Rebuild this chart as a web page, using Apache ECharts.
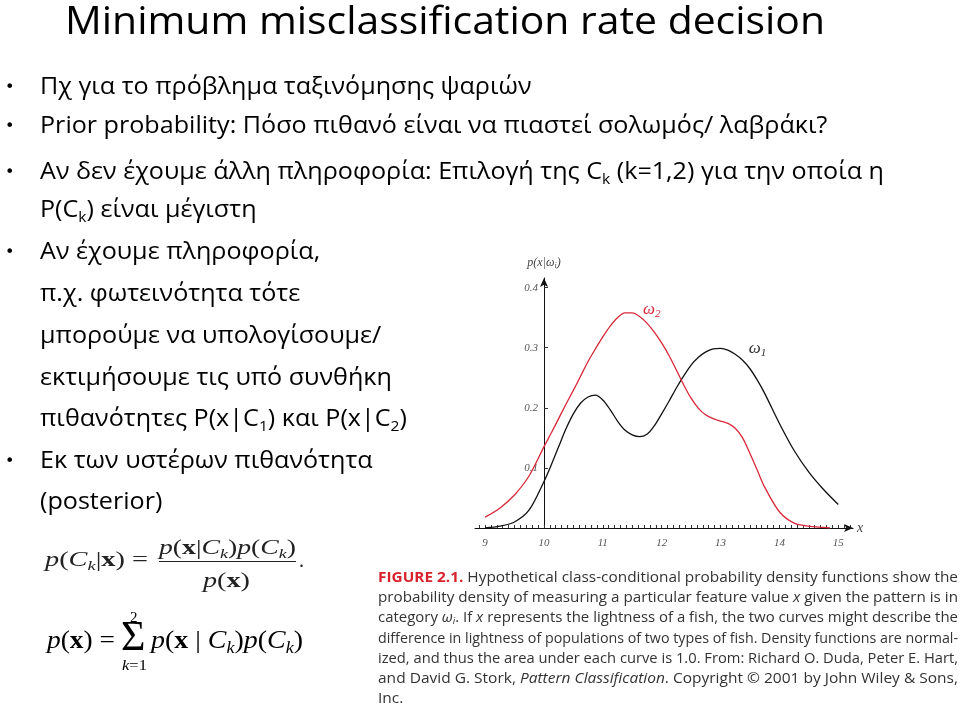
<!DOCTYPE html>
<html>
<head>
<meta charset="utf-8">
<script src="https://cdn.jsdelivr.net/npm/echarts@6/dist/echarts.min.js"></script>
<style>
html,body{margin:0;padding:0;background:#fff;width:960px;height:704px;overflow:hidden;}
#c{position:absolute;left:0;top:0;width:960px;height:704px;}
.txt{position:absolute;white-space:nowrap;z-index:2;}
.bl{display:inline-block;width:0;height:0;vertical-align:baseline;}
.title{font-family:'Open Sans',sans-serif;font-size:38px;color:#000;}
.body{font-family:'Open Sans',sans-serif;font-size:23px;color:#000;}
.body sub{font-size:0.62em;vertical-align:-0.32em;line-height:0;}
.bullet{font-family:'DejaVu Sans',sans-serif;font-size:16px;color:#000;}
.f1{font-family:'Liberation Serif',serif;font-size:20px;color:#222;}
.f2{font-family:'Liberation Serif',serif;font-size:25px;color:#000;}
.f1 i,.f2 i{font-style:italic;}
.f1 sub,.f2 sub{font-size:0.65em;vertical-align:-0.3em;line-height:0;font-style:italic;}
.cap{font-family:'Open Sans',sans-serif;font-size:14.5px;color:#333;}
.cap .red{color:#d8232f;font-weight:bold;}
.cap sub{font-size:0.65em;vertical-align:-0.25em;line-height:0;}
#bar{position:absolute;left:159px;top:561px;width:137px;height:1.4px;background:#222;z-index:2;}
</style>
</head>
<body>
<div id="c"></div>
<div id="bar"></div>
<script>
// ---------------- chart data ----------------
const xOmega1 = [9, 9.25, 9.5, 9.75, 10, 10.125, 10.25, 10.375, 10.5, 10.625, 10.75, 10.875, 11, 11.125, 11.25, 11.375, 11.5, 11.625, 11.75, 11.875, 12, 12.125, 12.25, 12.375, 12.5, 12.625, 12.75, 12.875, 13, 13.125, 13.25, 13.375, 13.5, 13.625, 13.75, 14, 14.25, 14.5, 14.75, 15];
const omega1   = [0, 0.003, 0.010, 0.030, 0.077, 0.105, 0.135, 0.165, 0.190, 0.208, 0.218, 0.221, 0.213, 0.197, 0.178, 0.163, 0.155, 0.152, 0.156, 0.170, 0.190, 0.211, 0.233, 0.253, 0.271, 0.284, 0.293, 0.298, 0.299, 0.296, 0.289, 0.279, 0.265, 0.246, 0.224, 0.174, 0.129, 0.093, 0.064, 0.039];
const xOmega2 = [9, 9.25, 9.5, 9.75, 10, 10.125, 10.25, 10.375, 10.5, 10.625, 10.75, 10.875, 11, 11.125, 11.25, 11.375, 11.5, 11.625, 11.75, 11.875, 12, 12.125, 12.25, 12.375, 12.5, 12.625, 12.75, 12.875, 13, 13.125, 13.25, 13.375, 13.5, 13.625, 13.75, 14, 14.25, 14.5, 14.75, 14.86];
const omega2   = [0.018, 0.033, 0.055, 0.087, 0.135, 0.158, 0.182, 0.206, 0.229, 0.253, 0.277, 0.298, 0.318, 0.336, 0.350, 0.358, 0.358, 0.352, 0.341, 0.326, 0.308, 0.287, 0.263, 0.238, 0.216, 0.199, 0.188, 0.182, 0.178, 0.174, 0.166, 0.150, 0.124, 0.096, 0.068, 0.027, 0.008, 0.003, 0.001, 0];
const xTickLabels = [9, 10, 11, 12, 13, 14, 15];
const yTickLabels = [0.1, 0.2, 0.3, 0.4];
const xMinorTicks = [8.9, 9, 9.1, 9.2, 9.3, 9.4, 9.5, 9.6, 9.7, 9.8, 9.9, 10, 10.1, 10.2, 10.3, 10.4, 10.5, 10.6, 10.7, 10.8, 10.9, 11, 11.1, 11.2, 11.3, 11.4, 11.5, 11.6, 11.7, 11.8, 11.9, 12, 12.1, 12.2, 12.3, 12.4, 12.5, 12.6, 12.7, 12.8, 12.9, 13, 13.1, 13.2, 13.3, 13.4, 13.5, 13.6, 13.7, 13.8, 13.9, 14, 14.1, 14.2, 14.3, 14.4, 14.5, 14.6, 14.7, 14.8, 14.9, 15, 15.1, 15.2];
const curveLabelPos1 = [13.63, 0.298];
const curveLabelPos2 = [11.83, 0.364];

const serif = "'Liberation Serif', 'DejaVu Serif', serif";
const chart = echarts.init(document.getElementById('c'));
chart.setOption({
  animation: false,
  grid: {left: 475, right: 107, top: 278, bottom: 176, containLabel: false},
  xAxis: {
    type: 'value', min: 8.83, max: 15.25,
    name: 'x', nameLocation: 'end', nameGap: 4,
    nameTextStyle: {fontFamily: serif, fontStyle: 'italic', fontSize: 14, color: '#444', verticalAlign: 'middle'},
    axisLine: {show: true, onZero: false, symbol: ['none', 'arrow'], symbolSize: [6, 9], lineStyle: {color: '#111', width: 1}},
    axisTick: {show: true, inside: true, length: 3, customValues: xMinorTicks, lineStyle: {color: '#333', width: 1}},
    axisLabel: {customValues: xTickLabels, fontFamily: serif, fontStyle: 'italic', fontSize: 11, color: '#555', margin: 10},
    splitLine: {show: false}
  },
  yAxis: {
    type: 'value', min: 0, max: 0.416, offset: -69,
    name: '{a|p(x|ω}{s|i}{a|)}', nameLocation: 'end', nameGap: 8,
    nameTextStyle: {rich: {
      a: {fontFamily: serif, fontStyle: 'italic', fontSize: 12, color: '#444', lineHeight: 14},
      s: {fontFamily: serif, fontStyle: 'italic', fontSize: 8, color: '#444', lineHeight: 8, verticalAlign: 'bottom'}
    }},
    axisLine: {show: true, symbol: ['none', 'arrow'], symbolSize: [6, 9], lineStyle: {color: '#111', width: 1}},
    axisTick: {show: true, inside: true, length: 4, customValues: yTickLabels, lineStyle: {color: '#333'}},
    axisLabel: {customValues: yTickLabels, formatter: v => v.toFixed(1), fontFamily: serif, fontStyle: 'italic', fontSize: 11, color: '#555', margin: 6},
    splitLine: {show: false}
  },
  series: [
    {
      name: 'ω1', type: 'line', smooth: 0.3, showSymbol: false,
      data: xOmega1.map((x, i) => [x, omega1[i]]),
      lineStyle: {color: '#111', width: 1.3},
      markPoint: {symbol: 'circle', symbolSize: 1, itemStyle: {color: 'rgba(0,0,0,0)'},
        label: {show: true, position: 'inside', formatter: '{w|ω}{s|1}', rich: {
          w: {fontFamily: serif, fontStyle: 'italic', fontSize: 17, color: '#333', lineHeight: 20},
          s: {fontFamily: serif, fontStyle: 'italic', fontSize: 11, color: '#333', lineHeight: 11, verticalAlign: 'bottom'}}},
        data: [{coord: curveLabelPos1}]}
    },
    {
      name: 'ω2', type: 'line', smooth: 0.3, showSymbol: false,
      data: xOmega2.map((x, i) => [x, omega2[i]]),
      lineStyle: {color: '#d8283a', width: 1.3},
      markPoint: {symbol: 'circle', symbolSize: 1, itemStyle: {color: 'rgba(0,0,0,0)'},
        label: {show: true, position: 'inside', formatter: '{w|ω}{s|2}', rich: {
          w: {fontFamily: serif, fontStyle: 'italic', fontSize: 17, color: '#d8283a', lineHeight: 20},
          s: {fontFamily: serif, fontStyle: 'italic', fontSize: 11, color: '#d8283a', lineHeight: 11, verticalAlign: 'bottom'}}},
        data: [{coord: curveLabelPos2}]}
    }
  ]
});

// ---------------- slide text ----------------
function place(html, left, baseline, cls, target, fontSize) {
  const d = document.createElement('div');
  d.className = 'txt ' + cls;
  if (fontSize) d.style.fontSize = fontSize + 'px';
  d.innerHTML = html + '<span class="bl"></span>';
  d.style.left = left + 'px';
  d.style.top = '0px';
  document.body.appendChild(d);
  const off = d.querySelector('.bl').offsetTop;
  d.style.top = (baseline - off) + 'px';
  d._w = d.getBoundingClientRect().width;
  if (target) {
    d.style.transformOrigin = '0 0';
    d.style.transform = 'scaleX(' + (target / d._w) + ')';
  }
  return d;
}

place('Minimum misclassification rate decision', 65, 34, 'title', 760);

const bodyLines = [
  ['Πχ για το πρόβλημα ταξινόμησης ψαριών', 94, 532, true],
  ['Prior probability: Πόσο πιθανό είναι να πιαστεί σολωμός/ λαβράκι?', 133, 748, true],
  ['Αν δεν έχουμε άλλη πληροφορία: Επιλογή της C<sub>k</sub> (k=1,2) για την οποία η', 179, 898, true],
  ['P(C<sub>k</sub>) είναι μέγιστη', 217, 262, false],
  ['Αν έχουμε πληροφορία,', 259, 323, true],
  ['π.χ. φωτεινότητα τότε', 301, 300, false],
  ['μπορούμε να υπολογίσουμε/', 343, 386, false],
  ['εκτιμήσουμε τις υπό συνθήκη', 385, 395, false],
  ['πιθανότητες P(x|C<sub>1</sub>) και P(x|C<sub>2</sub>)', 426, 413, false],
  ['Εκ των υστέρων πιθανότητα', 468, 374, true],
  ['(posterior)', 509, 163, false]
];
// one common horizontal scale for all body lines
const tmp = bodyLines.map(l => place(l[0], 40, l[1], 'body'));
let ratio = 0; bodyLines.forEach((l, i) => ratio += (l[2] - 40) / tmp[i]._w); ratio /= bodyLines.length;
tmp.forEach(d => { d.style.transformOrigin = '0 0'; d.style.transform = 'scaleX(' + ratio + ')'; });
bodyLines.forEach(l => { if (l[3]) place('•', 5, l[1] - 2, 'bullet'); });

// formulas
place('<i>p</i>(<i>C</i><sub>k</sub>|<b>x</b>) =', 45, 566, 'f1', 103);
place('<i>p</i>(<b>x</b>|<i>C</i><sub>k</sub>)<i>p</i>(<i>C</i><sub>k</sub>)', 159, 554, 'f1', 137);
place('<i>p</i>(<b>x</b>)', 203, 587, 'f1', 47);
place('.', 299, 567, 'f1');
place('<i>p</i>(<b>x</b>) =', 47, 648, 'f2', 68);
place('Σ', 121, 650, 'f2', null, 42);
place('2', 130, 622, 'f2', null, 15);
place('<i>k</i>=1', 122, 670, 'f2', 25, 15);
place('<i>p</i>(<b>x</b> | <i>C</i><sub>k</sub>)<i>p</i>(<i>C</i><sub>k</sub>)', 151, 648, 'f2', 152);

// caption
const capLines = [
  '<span class="red">FIGURE 2.1.</span> Hypothetical class-conditional probability density functions show the',
  'probability density of measuring a particular feature value <i>x</i> given the pattern is in',
  'category <i>ω<sub>i</sub></i>. If <i>x</i> represents the lightness of a fish, the two curves might describe the',
  'difference in lightness of populations of two types of fish. Density functions are normal-',
  'ized, and thus the area under each curve is 1.0. From: Richard O. Duda, Peter E. Hart,',
  'and David G. Stork, <i>Pattern Classification</i>. Copyright © 2001 by John Wiley &amp; Sons,',
  'Inc.'
];
let capRatio = 1;
capLines.forEach((t, i) => {
  const last = i === capLines.length - 1;
  const d = place(t, 378, 582 + i * 20.2, 'cap', last ? null : 580);
  if (!last) capRatio = 580 / d._w;
  else { d.style.transformOrigin = '0 0'; d.style.transform = 'scaleX(' + capRatio + ')'; }
});
</script>
</body>
</html>
